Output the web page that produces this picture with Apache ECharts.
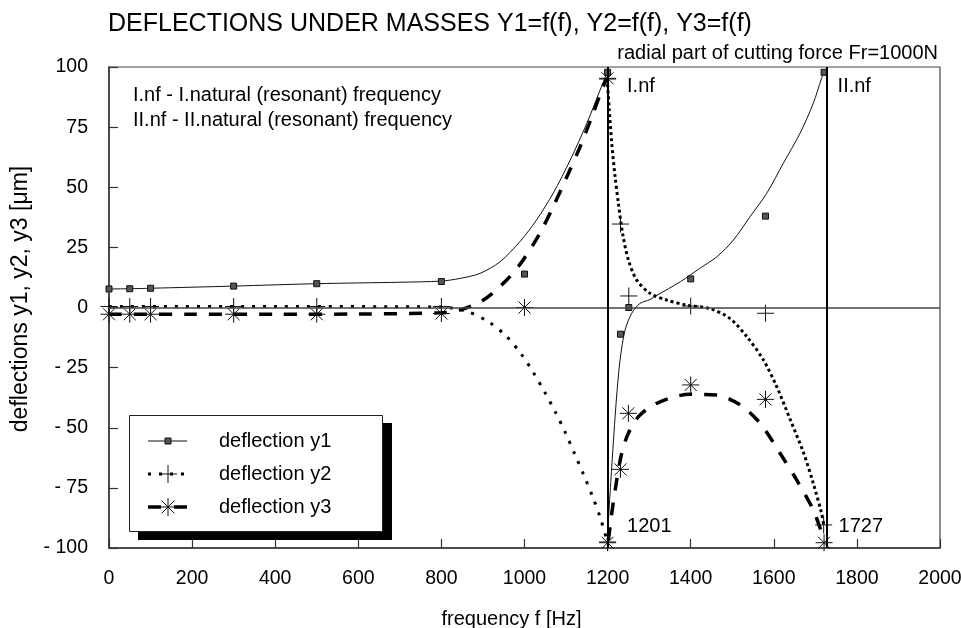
<!DOCTYPE html>
<html>
<head>
<meta charset="utf-8">
<title>Deflections under masses</title>
<script src="https://cdn.jsdelivr.net/npm/echarts@6/dist/echarts.min.js"></script>
<style>
  html, body { margin: 0; padding: 0; background: #fff; }
  #chart { width: 961px; height: 628px; }
</style>
</head>
<body>
<div id="chart"></div>
<script>
// axis ticks
var xTicks = [0, 200, 400, 600, 800, 1000, 1200, 1400, 1600, 1800, 2000]
var yTicks = [-100, -75, -50, -25, 0, 25, 50, 75, 100]

// resonant frequencies
var resonanceFreqs = [1201, 1727]
var resonanceNames = ['I.nf', 'II.nf']

// measured points [f, y]
var y1Points = [[0, 7.7], [50, 7.8], [100, 8.0], [300, 8.9], [500, 9.9], [800, 10.8], [1000, 13.9],
  [1200, 97.8], [1231, -11.1], [1251, 0], [1400, 11.9], [1580, 38], [1721, 97.8]]
var y2Points = [[0, 0.4], [50, 0.4], [100, 0.4], [300, 0.4], [500, 0.4], [800, 0.4], [1000, 0],
  [1200, 95], [1200, -97.5], [1231, 34.7], [1251, 4.8], [1400, 0.6], [1580, -2.4], [1720, -90.4]]
var y3Points = [[0, -2.8], [50, -2.8], [100, -2.8], [300, -2.8], [500, -2.8], [800, -2.5], [1000, 0],
  [1200, 95.3], [1200, -97.8], [1231, -67.3], [1250, -44], [1400, -32.2], [1580, -38.2], [1721, -97.8]]

// computed curves (below / above the first resonance)
var y1CurveLow = [[0, 7.7], [50, 7.8], [100, 8.0], [300, 8.9], [500, 9.9], [700, 10.5], [800, 11.0],
  [845, 12.1], [893, 14.2], [941, 19.0], [989, 27.4], [1029, 36.4], [1069, 47.5], [1110, 61.3],
  [1150, 76.6], [1182, 90.4], [1198, 97.4]]
var y1CurveHigh = [[1199, -96.7], [1210, -66.2], [1221, -38.5], [1230, -21.8], [1242, -9.4], [1258, -2.4],
  [1278, 1.7], [1302, 3.3], [1318, 5.0], [1375, 10.7], [1422, 16.3], [1463, 21.1], [1503, 28.1],
  [1543, 37.8], [1583, 47.5], [1623, 60], [1663, 72.4], [1695, 84.9], [1715, 95.3], [1721, 97.8]]
var y2CurveLow = [[0, 0.4], [400, 0.4], [800, 0.2], [861, -1.6], [913, -5.9], [955, -11.7], [991, -19.1],
  [1021, -26.9], [1049, -35.3], [1075, -43.7], [1099, -52.3], [1121, -61], [1143, -69.8], [1164, -78.7],
  [1183, -87.7], [1198, -96.7]]
var y2CurveHigh = [[1199, 95.3], [1204, 82.1], [1210, 68.3], [1218, 54.4], [1226, 43.3], [1236, 30.9],
  [1250, 19.8], [1270, 11.4], [1302, 5.9], [1342, 3.1], [1390, 1.0], [1447, -0.5], [1494, -4.5],
  [1535, -12.1], [1575, -21.8], [1607, -32.9], [1640, -46.8], [1672, -60.6], [1695, -73.1],
  [1715, -85.6], [1721, -91.1]]
var y3CurveLow = [[0, -2.8], [200, -2.8], [400, -2.8], [600, -2.7], [800, -2.2], [845, -1], [901, 3.1],
  [957, 11.4], [997, 19.8], [1037, 30.9], [1069, 41.9], [1102, 54.4], [1134, 66.9], [1162, 79.3],
  [1186, 90.4], [1198, 95.3]]
var y3CurveHigh = [[1202, -96.7], [1210, -85.6], [1222, -71.7], [1234, -60.6], [1250, -52.3],
  [1278, -44.7], [1326, -39.2], [1398, -36.1], [1462, -36.4], [1519, -40.5], [1567, -48.1],
  [1615, -60.6], [1655, -71.7], [1695, -84.2], [1721, -96.7]]

var FONT = '"Liberation Sans", Arial, sans-serif'
var PLUS = 'path://M8,0V16M0,8H16'
var STAR = 'path://M8,0V16M0,8H16M2.34,2.34L13.66,13.66M2.34,13.66L13.66,2.34'

function curve (data, lineStyle) {
  return {
    type: 'line',
    data: data,
    smooth: 0.3,
    showSymbol: false,
    symbol: 'none',
    silent: true,
    lineStyle: lineStyle,
    z: 2
  }
}

function points (data, symbol, size, itemStyle) {
  itemStyle.opacity = 1
  return {
    type: 'scatter',
    data: data,
    symbol: symbol,
    symbolSize: size,
    silent: true,
    itemStyle: itemStyle,
    z: 4
  }
}

function legendRow (y, text, line, marker) {
  return [line, marker, {
    type: 'text',
    left: 219,
    top: y - 10,
    style: { text: text, font: '20px ' + FONT, fill: '#000', verticalAlign: 'top', lineHeight: 20 }
  }]
}

var legendItems = [
  { type: 'rect', shape: { x: 138, y: 423, width: 254, height: 117 }, style: { fill: '#000' } },
  { type: 'rect', shape: { x: 129.5, y: 415.5, width: 253, height: 116 }, style: { fill: '#fff', stroke: '#222', lineWidth: 1 } }
]
legendItems = legendItems.concat(
  legendRow(441, 'deflection y1',
    { type: 'line', shape: { x1: 148, y1: 441, x2: 187, y2: 441 }, style: { stroke: '#111', lineWidth: 1 } },
    { type: 'rect', shape: { x: 165, y: 438, width: 6, height: 6 }, style: { fill: '#555', stroke: '#111', lineWidth: 1 } }),
  legendRow(474, 'deflection y2',
    { type: 'line', shape: { x1: 148, y1: 474, x2: 187, y2: 474 }, style: { stroke: '#000', lineWidth: 3, lineDash: [3, 8] } },
    { type: 'group', children: [
      { type: 'line', shape: { x1: 159, y1: 474, x2: 177, y2: 474 }, style: { stroke: '#111', lineWidth: 1 } },
      { type: 'line', shape: { x1: 168, y1: 465, x2: 168, y2: 483 }, style: { stroke: '#111', lineWidth: 1 } }
    ] }),
  legendRow(507, 'deflection y3',
    { type: 'line', shape: { x1: 148, y1: 507, x2: 187, y2: 507 }, style: { stroke: '#000', lineWidth: 3.5, lineDash: [13, 13] } },
    { type: 'group', children: [
      { type: 'line', shape: { x1: 159, y1: 507, x2: 177, y2: 507 }, style: { stroke: '#111', lineWidth: 1 } },
      { type: 'line', shape: { x1: 168, y1: 498, x2: 168, y2: 516 }, style: { stroke: '#111', lineWidth: 1 } },
      { type: 'line', shape: { x1: 161.6, y1: 500.6, x2: 174.4, y2: 513.4 }, style: { stroke: '#111', lineWidth: 1 } },
      { type: 'line', shape: { x1: 161.6, y1: 513.4, x2: 174.4, y2: 500.6 }, style: { stroke: '#111', lineWidth: 1 } }
    ] })
)

var labelPoints = [
  { value: [resonanceFreqs[0], 92], name: resonanceNames[0], label: { distance: 19 } },
  { value: [resonanceFreqs[1], 92], name: resonanceNames[1], label: { distance: 11 } },
  { value: [resonanceFreqs[0], -91], name: String(resonanceFreqs[0]), label: { distance: 19 } },
  { value: [resonanceFreqs[1], -91], name: String(resonanceFreqs[1]), label: { distance: 12 } }
]

var chart = echarts.init(document.getElementById('chart'))
chart.setOption({
  animation: false,
  backgroundColor: '#fff',
  textStyle: { fontFamily: FONT },
  title: [{
    text: 'DEFLECTIONS UNDER MASSES Y1=f(f), Y2=f(f), Y3=f(f)',
    left: 108,
    top: 12,
    padding: 0,
    textStyle: { fontSize: 25, fontWeight: 'normal', color: '#000', fontFamily: FONT, lineHeight: 25 }
  }, {
    text: 'radial part of cutting force Fr=1000N',
    right: 23,
    top: 43,
    padding: 0,
    textStyle: { fontSize: 20, fontWeight: 'normal', color: '#000', fontFamily: FONT, lineHeight: 20 }
  }],
  grid: {
    left: 109,
    right: 21,
    top: 67,
    bottom: 80,
    show: true,
    borderColor: '#444',
    borderWidth: 1.2,
    outerBoundsMode: 'none'
  },
  xAxis: {
    type: 'value',
    min: xTicks[0],
    max: xTicks[xTicks.length - 1],
    interval: xTicks[1] - xTicks[0],
    name: 'frequency f [Hz]',
    nameLocation: 'middle',
    nameGap: 61,
    nameTextStyle: { fontSize: 20, color: '#000', lineHeight: 20, padding: [0, 26, 0, 0] },
    axisLine: { onZero: false, lineStyle: { color: '#333', width: 1.5 } },
    axisTick: { inside: true, length: 9, lineStyle: { color: '#333', width: 1.2 } },
    axisLabel: {
      margin: 21,
      fontSize: 19.5,
      color: '#000',
      lineHeight: 20,
      formatter: function (v) { return String(v) }
    },
    splitLine: { show: false }
  },
  yAxis: {
    type: 'value',
    min: yTicks[0],
    max: yTicks[yTicks.length - 1],
    interval: yTicks[1] - yTicks[0],
    name: 'deflections y1, y2, y3 [\u03bcm]',
    nameLocation: 'middle',
    nameGap: 73,
    nameTextStyle: { fontSize: 23, color: '#000', lineHeight: 23, padding: [0, 0, 0, 17] },
    axisLine: { onZero: false, lineStyle: { color: '#333', width: 1.5 } },
    axisTick: { inside: true, length: 9, lineStyle: { color: '#333', width: 1.2 } },
    axisLabel: {
      margin: 21,
      fontSize: 19.5,
      color: '#000',
      formatter: function (v) { return v < 0 ? '- ' + (-v) : String(v) }
    },
    splitLine: { show: false }
  },
  series: [
    Object.assign(curve(y1CurveLow, { color: '#111', width: 1 }), {
      markLine: {
        silent: true,
        symbol: 'none',
        label: { show: false },
        data: [
          { yAxis: 0, lineStyle: { color: '#444', width: 1.5, type: 'solid' } },
          { xAxis: resonanceFreqs[0], lineStyle: { color: '#000', width: 2, type: 'solid' } },
          { xAxis: resonanceFreqs[1], lineStyle: { color: '#000', width: 2, type: 'solid' } }
        ]
      }
    }),
    curve(y1CurveHigh, { color: '#111', width: 1 }),
    curve(y2CurveLow, { color: '#000', width: 3, type: [3, 8] }),
    curve(y2CurveHigh, { color: '#000', width: 3, type: [3, 3] }),
    curve(y3CurveLow, { color: '#000', width: 3.5, type: [13, 12] }),
    curve(y3CurveHigh, { color: '#000', width: 3.5, type: [13, 12] }),
    points(y1Points, 'rect', 6, { color: '#555', borderColor: '#111', borderWidth: 1 }),
    points(y2Points, PLUS, 17, { color: 'transparent', borderColor: '#111', borderWidth: 1 }),
    points(y3Points, STAR, 17, { color: 'transparent', borderColor: '#111', borderWidth: 1 }),
    {
      type: 'scatter',
      data: labelPoints,
      symbolSize: 0,
      silent: true,
      itemStyle: { color: '#000', opacity: 1 },
      label: {
        show: true,
        position: 'right',
        formatter: '{b}',
        fontSize: 20,
        color: '#000'
      },
      z: 5
    }
  ],
  graphic: [
    {
      type: 'text',
      left: 133,
      top: 85,
      style: { text: 'I.nf - I.natural (resonant) frequency', font: '20px ' + FONT, fill: '#000', lineHeight: 20 }
    },
    {
      type: 'text',
      left: 133,
      top: 110,
      style: { text: 'II.nf - II.natural (resonant) frequency', font: '20px ' + FONT, fill: '#000', lineHeight: 20 }
    }
  ].concat(legendItems)
})
</script>
</body>
</html>
